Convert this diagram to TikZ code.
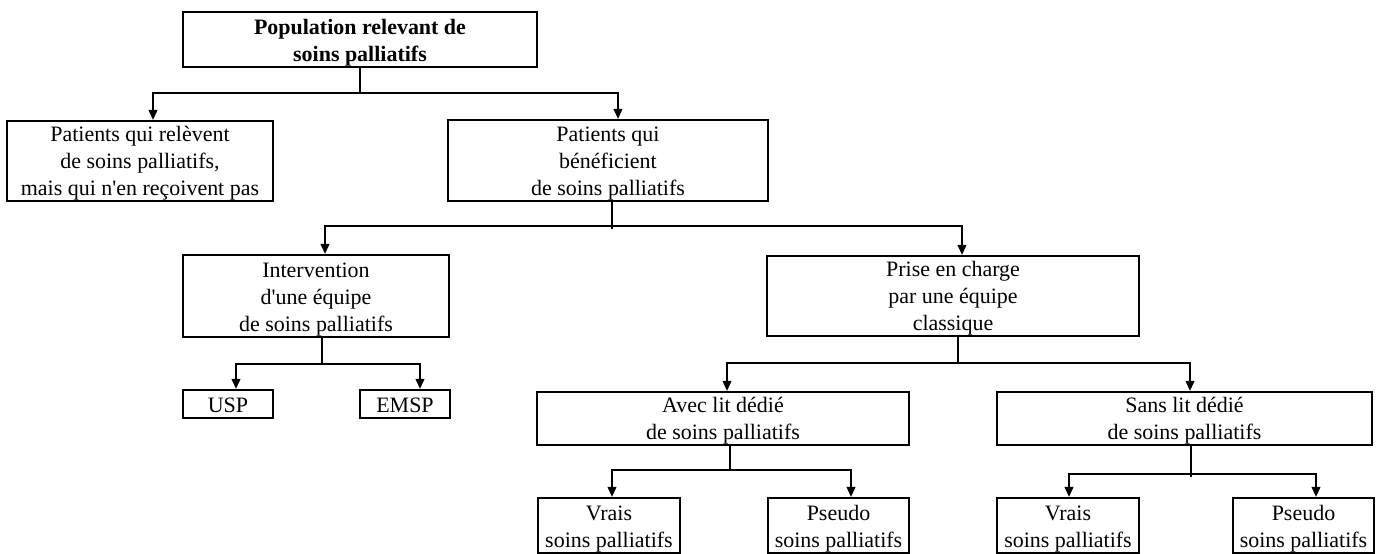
\documentclass[tikz,border=0pt]{standalone}
\usepackage{fontspec}
\setmainfont{Liberation Serif}
\usepackage{tikz}
\usetikzlibrary{arrows.meta, calc}

\begin{document}
\begin{tikzpicture}[x=0.2mm, y=-0.2mm]

\tikzstyle{block} = [rectangle, draw=black, line width=1.35pt, inner sep=0pt, font=\fontsize{12.5}{15.6}\selectfont]
\tikzstyle{trunk} = [line width=0.6pt]
\tikzstyle{arrow} = [line width=0.6pt, -{Triangle[length=2mm, width=1.8mm]}]

\useasboundingbox (0,0) rectangle (1380,554);

\node (pop) [block] at (360,39.5) {\parbox[c][11mm][b]{70.8mm}{\centering\bfseries Population relevant de\\ soins palliatifs\strut\par\vspace{-1.8pt}}};
\node (nonrec) [block] at (140,161) {\parbox[c][16mm][b]{53.2mm}{\centering Patients qui relèvent\\ de soins palliatifs,\\ mais qui n\textquotesingle en reçoivent pas\strut\par\vspace{-1.8pt}}};
\node (benef) [block] at (608,160.5) {\parbox[c][16.2mm][b]{64mm}{\centering Patients qui\\ bénéficient\\ de soins palliatifs\strut\par\vspace{-1.8pt}}};
\node (interv) [block] at (316,296) {\parbox[c][16.4mm][b]{53.2mm}{\centering Intervention\\ d\textquotesingle une équipe\\ de soins palliatifs\strut\par\vspace{-1.8pt}}};
\node (prise) [block] at (953,296) {\parbox[c][16mm][b]{74.4mm}{\centering Prise en charge\\ par une équipe\\ classique\strut\par\vspace{-1.8pt}}};
\node (usp) [block] at (228,404) {\parbox[c][5.6mm][b]{18mm}{\centering USP\strut\par\vspace{-1.8pt}}};
\node (emsp) [block] at (405,404) {\parbox[c][5.6mm][b]{18mm}{\centering EMSP\strut\par\vspace{-1.8pt}}};
\node (avec) [block] at (723,418.5) {\parbox[c][10.6mm][b]{74.4mm}{\centering Avec lit dédié\\ de soins palliatifs\strut\par\vspace{-1.8pt}}};
\node (sans) [block] at (1184.5,418.5) {\parbox[c][10.6mm][b]{75mm}{\centering Sans lit dédié\\ de soins palliatifs\strut\par\vspace{-1.8pt}}};
\node (vrais1) [block] at (609,525.5) {\parbox[c][11mm][b]{28.4mm}{\centering Vrais\hspace*{6mm}\\ soins palliatifs\strut\par\vspace{-1.8pt}}};
\node (pseudo1) [block] at (838.5,525.5) {\parbox[c][11mm][b]{28.2mm}{\centering Pseudo\\ soins palliatifs\strut\par\vspace{-1.8pt}}};
\node (vrais2) [block] at (1068,525.5) {\parbox[c][11mm][b]{28.4mm}{\centering Vrais\hspace*{6mm}\\ soins palliatifs\strut\par\vspace{-1.8pt}}};
\node (pseudo2) [block] at (1303.5,525.5) {\parbox[c][11mm][b]{28.2mm}{\centering Pseudo\\ soins palliatifs\strut\par\vspace{-1.8pt}}};

\coordinate (j0) at (360,93);
\coordinate (j1) at (612,226);
\coordinate (j2) at (958,363);
\coordinate (j3) at (322,364);
\coordinate (j4) at (730,470);
\coordinate (j5) at (1191,474);

\draw [trunk, line width=1.1pt] (pop.south) -- (j0);
\draw [arrow] (j0) -| ($(nonrec.north)+(13,0)$);
\draw [arrow] (j0) -| ($(benef.north)+(10,0)$);

\draw [trunk, shorten >=-0.6mm] (benef.south -| j1) -- (j1);
\draw [arrow] (j1) -| ($(interv.north)+(9,0)$);
\draw [arrow] (j1) -| ($(prise.north)+(9,0)$);

\draw [trunk] (interv.south -| j3) -- (j3);
\draw [arrow] (j3) -| ($(usp.north)+(8,0)$);
\draw [arrow] (j3) -| ($(emsp.north)+(15,0)$);

\draw [trunk] (prise.south -| j2) -- (j2);
\draw [arrow] (j2) -| ($(avec.north)+(4,0)$);
\draw [arrow] (j2) -| ($(sans.north)+(5.5,0)$);

\draw [trunk] (avec.south -| j4) -- (j4);
\draw [arrow] (j4) -| ($(vrais1.north)+(3,0)$);
\draw [arrow] (j4) -| ($(pseudo1.north)+(12.5,0)$);

\draw [trunk, shorten >=-0.6mm] (sans.south -| j5) -- (j5);
\draw [arrow] (j5) -| ($(vrais2.north)+(1,0)$);
\draw [arrow] (j5) -| ($(pseudo2.north)+(12.5,0)$);
\end{tikzpicture}
\end{document}
